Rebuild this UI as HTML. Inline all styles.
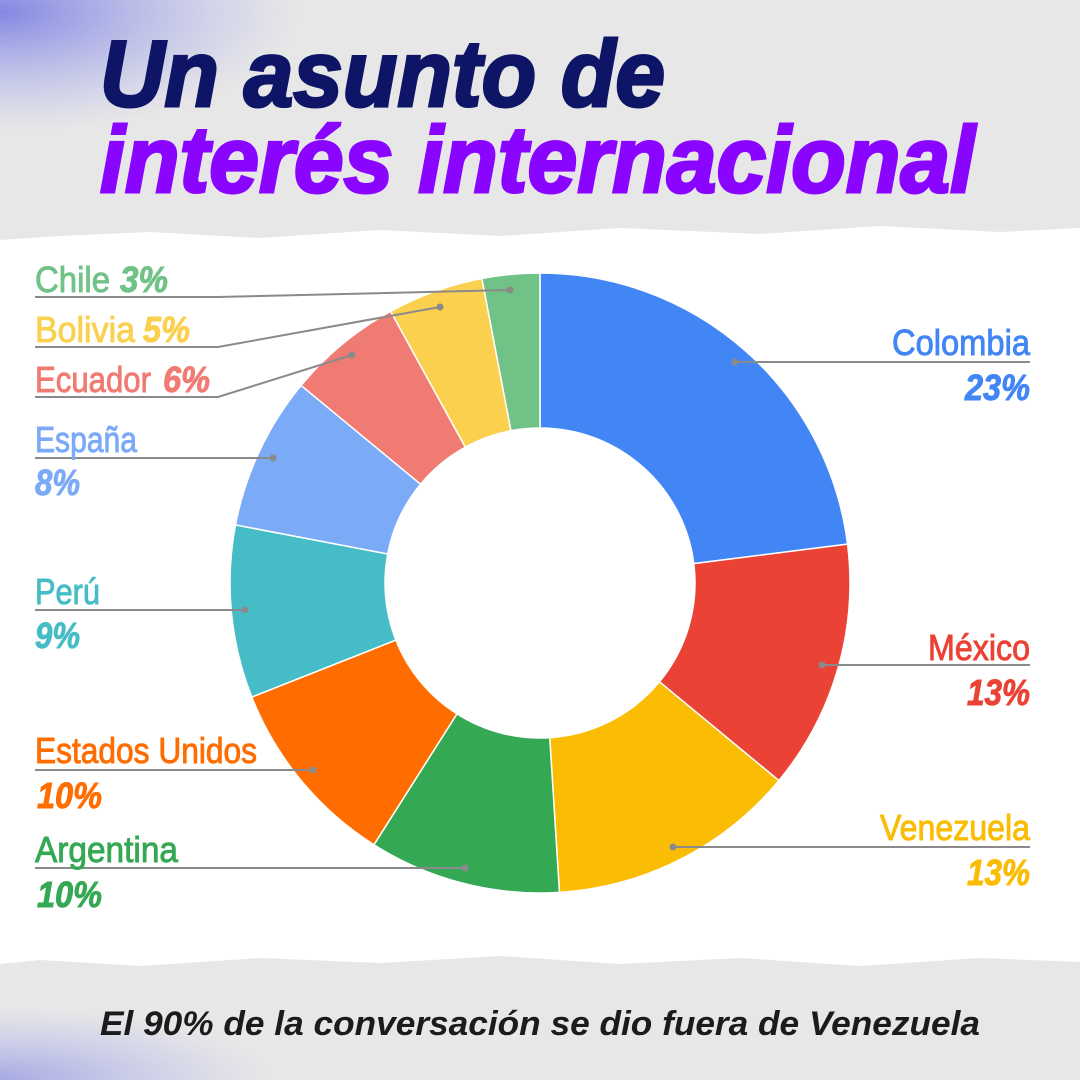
<!DOCTYPE html>
<html><head><meta charset="utf-8"><style>
html,body{margin:0;padding:0;background:#e9e9ea;}
svg{display:block}
text{font-family:"Liberation Sans",sans-serif;}
</style></head><body>
<svg id="s" width="1080" height="1080" viewBox="0 0 1080 1080" xmlns="http://www.w3.org/2000/svg">
<defs>
<radialGradient id="bl" cx="0" cy="0.05" r="0.5">
<stop offset="0" stop-color="#6a6fe0" stop-opacity="0.8"/>
<stop offset="1" stop-color="#9aa0ee" stop-opacity="0"/>
</radialGradient>
<radialGradient id="bl2" cx="0" cy="1" r="0.6">
<stop offset="0" stop-color="#7b7fe0" stop-opacity="0.6"/>
<stop offset="1" stop-color="#9aa0ee" stop-opacity="0"/>
</radialGradient>
</defs>
<rect width="1080" height="1080" fill="#e7e7e8"/>
<rect x="0" y="0" width="600" height="240" fill="url(#bl)"/>
<rect x="0" y="960" width="450" height="120" fill="url(#bl2)"/>
<polygon fill="#ffffff" points="0,240 60,236 150,232 260,238 380,230 500,236 620,228 760,234 880,226 1000,232 1080,228 1080,962 980,958 860,966 740,958 620,964 500,956 380,963 260,958 140,966 40,960 0,964"/>
<text x="100" y="106" font-size="94" font-weight="bold" font-style="italic" fill="#0e1466" stroke="#0e1466" stroke-width="3" textLength="565" lengthAdjust="spacingAndGlyphs">Un asunto de</text>
<text x="100" y="192" font-size="94" font-weight="bold" font-style="italic" fill="#8a05ff" stroke="#8a05ff" stroke-width="3" textLength="875" lengthAdjust="spacingAndGlyphs">interés internacional</text>
<g id="pie"></g>
<g id="lines" stroke="#8a8a8a" stroke-width="2" fill="none">
<polyline points="735,362 1030,362"/>
<polyline points="822,665 1030,665"/>
<polyline points="673,847 1030,847"/>
<polyline points="465,868 35,868"/>
<polyline points="313,770 35,770"/>
<polyline points="245,610 35,610"/>
<polyline points="273,458 35,458"/>
<polyline points="352,355 218,397 35,397"/>
<polyline points="440,307 218,347 35,347"/>
<polyline points="510,290 218,297 35,297"/>
</g>
<g fill="#8a8a8a">
<circle cx="735" cy="362" r="3.5"/><circle cx="822" cy="665" r="3.5"/><circle cx="673" cy="847" r="3.5"/>
<circle cx="465" cy="868" r="3.5"/><circle cx="313" cy="770" r="3.5"/><circle cx="245" cy="610" r="3.5"/>
<circle cx="273" cy="458" r="3.5"/><circle cx="352" cy="355" r="3.5"/><circle cx="440" cy="307" r="3.5"/><circle cx="510" cy="290" r="3.5"/>
</g>
<g font-size="36" stroke-width="0.9">
<text x="892" y="355" fill="#4285f4" stroke="#4285f4" textLength="138" lengthAdjust="spacingAndGlyphs">Colombia</text>
<text x="965" y="400" fill="#4285f4" stroke="#4285f4" font-weight="bold" font-style="italic" textLength="65" lengthAdjust="spacingAndGlyphs">23%</text>
<text x="928" y="660" fill="#ea4335" stroke="#ea4335" textLength="102" lengthAdjust="spacingAndGlyphs">México</text>
<text x="967" y="705" fill="#ea4335" stroke="#ea4335" font-weight="bold" font-style="italic" textLength="63" lengthAdjust="spacingAndGlyphs">13%</text>
<text x="880" y="840" fill="#fbbc04" stroke="#fbbc04" textLength="150" lengthAdjust="spacingAndGlyphs">Venezuela</text>
<text x="967" y="885" fill="#fbbc04" stroke="#fbbc04" font-weight="bold" font-style="italic" textLength="63" lengthAdjust="spacingAndGlyphs">13%</text>
<text x="35" y="862" fill="#34a853" stroke="#34a853" textLength="143" lengthAdjust="spacingAndGlyphs">Argentina</text>
<text x="37" y="907" fill="#34a853" stroke="#34a853" font-weight="bold" font-style="italic" textLength="65" lengthAdjust="spacingAndGlyphs">10%</text>
<text x="35" y="763" fill="#ff6d01" stroke="#ff6d01" textLength="222" lengthAdjust="spacingAndGlyphs">Estados Unidos</text>
<text x="37" y="808" fill="#ff6d01" stroke="#ff6d01" font-weight="bold" font-style="italic" textLength="65" lengthAdjust="spacingAndGlyphs">10%</text>
<text x="35" y="604" fill="#46bdc6" stroke="#46bdc6" textLength="65" lengthAdjust="spacingAndGlyphs">Perú</text>
<text x="35" y="648" fill="#46bdc6" stroke="#46bdc6" font-weight="bold" font-style="italic" textLength="45" lengthAdjust="spacingAndGlyphs">9%</text>
<text x="35" y="452" fill="#7baaf7" stroke="#7baaf7" textLength="102" lengthAdjust="spacingAndGlyphs">España</text>
<text x="35" y="495" fill="#7baaf7" stroke="#7baaf7" font-weight="bold" font-style="italic" textLength="45" lengthAdjust="spacingAndGlyphs">8%</text>
<text x="35" y="392" fill="#f07b72" stroke="#f07b72" textLength="116" lengthAdjust="spacingAndGlyphs">Ecuador</text>
<text x="163" y="392" fill="#f07b72" stroke="#f07b72" font-weight="bold" font-style="italic" textLength="47" lengthAdjust="spacingAndGlyphs">6%</text>
<text x="35" y="342" fill="#fcd04f" stroke="#fcd04f" textLength="100" lengthAdjust="spacingAndGlyphs">Bolivia</text>
<text x="143" y="342" fill="#fcd04f" stroke="#fcd04f" font-weight="bold" font-style="italic" textLength="47" lengthAdjust="spacingAndGlyphs">5%</text>
<text x="35" y="292" fill="#71c287" stroke="#71c287" textLength="75" lengthAdjust="spacingAndGlyphs">Chile</text>
<text x="120" y="292" fill="#71c287" stroke="#71c287" font-weight="bold" font-style="italic" textLength="48" lengthAdjust="spacingAndGlyphs">3%</text>
</g>
<text x="100" y="1035" font-size="34" font-weight="bold" font-style="italic" fill="#1b1b1b" textLength="880" lengthAdjust="spacingAndGlyphs">El 90% de la conversación se dio fuera de Venezuela</text>
</svg>
<script>
(function(){
var cx=540,cy=583,R=310,r=155;
var d=[[23,"#4285f4"],[13,"#ea4335"],[13,"#fbbc04"],[10,"#34a853"],[10,"#ff6d01"],[9,"#46bdc6"],[8,"#7baaf7"],[6,"#f07b72"],[5,"#fcd04f"],[3,"#71c287"]];
var g=document.getElementById("pie"),c=0,ns="http://www.w3.org/2000/svg";
function p(a,rad){var t=a/100*2*Math.PI;return [cx+rad*Math.sin(t),cy-rad*Math.cos(t)];}
d.forEach(function(s){
var a0=c,a1=c+s[0];c=a1;var lg=s[0]>50?1:0;
var A=p(a0,R),B=p(a1,R),C=p(a1,r),D=p(a0,r);
var path=document.createElementNS(ns,"path");
path.setAttribute("d","M"+A+" A"+R+","+R+" 0 "+lg+" 1 "+B+" L"+C+" A"+r+","+r+" 0 "+lg+" 0 "+D+"Z");
path.setAttribute("fill",s[1]);path.setAttribute("stroke","#fff");path.setAttribute("stroke-width","1.5");
g.appendChild(path);});
})();
</script>
</body></html>
